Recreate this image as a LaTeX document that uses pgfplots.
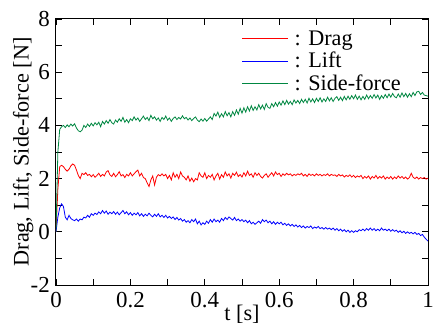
\documentclass[border=0pt]{standalone}
\usepackage{pgfplots}
\pgfplotsset{compat=1.18}
\usepackage{pgfplotstable}
\usepackage{fontspec}
\setmainfont{Liberation Serif}
\definecolor{dg}{RGB}{0,135,65}
\pgfplotstableread{
t drag lift side
0.000 0.00 0.00 0.00
0.005 1.60 0.55 3.00
0.010 2.45 0.90 3.85
0.015 2.50 1.05 3.95
0.020 2.45 0.95 4.00
0.025 2.35 0.55 3.92
0.030 2.28 0.45 4.02
0.035 2.35 0.62 3.95
0.040 2.48 0.50 4.05
0.045 2.55 0.45 3.98
0.050 2.50 0.42 4.06
0.055 2.32 0.48 3.90
0.060 2.12 0.40 3.80
0.065 2.00 0.48 3.76
0.070 2.20 0.45 3.82
0.075 2.15 0.55 4.00
0.080 2.22 0.52 3.92
0.085 2.12 0.62 4.05
0.090 2.16 0.55 3.96
0.095 2.07 0.68 4.08
0.100 2.15 0.62 3.98
0.105 2.05 0.70 4.10
0.110 2.12 0.65 4.02
0.115 2.20 0.75 4.12
0.120 2.08 0.68 3.95
0.125 2.16 0.80 4.15
0.130 2.10 0.70 4.05
0.135 2.25 0.78 4.18
0.140 2.30 0.66 4.08
0.145 2.14 0.74 4.22
0.150 2.08 0.68 4.10
0.155 2.20 0.76 4.05
0.160 2.07 0.66 4.20
0.165 2.15 0.74 4.12
0.170 2.26 0.64 4.25
0.175 2.10 0.72 4.15
0.180 2.15 0.80 4.30
0.185 2.04 0.68 4.12
0.190 2.16 0.75 4.22
0.195 2.10 0.64 4.10
0.200 2.22 0.72 4.25
0.205 2.10 0.62 4.18
0.210 2.18 0.70 4.32
0.215 2.26 0.64 4.20
0.220 2.32 0.72 4.28
0.225 2.10 0.60 4.15
0.230 2.20 0.68 4.25
0.235 2.04 0.58 4.35
0.240 2.00 0.66 4.22
0.245 1.84 0.60 4.30
0.250 1.70 0.70 4.18
0.255 1.95 0.62 4.38
0.260 2.10 0.56 4.25
0.265 1.76 0.66 4.32
0.270 2.05 0.58 4.20
0.275 2.15 0.68 4.28
0.280 2.10 0.56 4.15
0.285 2.18 0.62 4.30
0.290 2.10 0.54 4.22
0.295 2.16 0.62 4.35
0.300 2.00 0.52 4.20
0.305 2.12 0.58 4.28
0.310 1.95 0.50 4.15
0.315 2.22 0.56 4.26
0.320 2.05 0.46 4.32
0.325 2.16 0.54 4.22
0.330 2.00 0.44 4.30
0.335 2.25 0.50 4.24
0.340 2.10 0.40 4.36
0.345 2.05 0.46 4.25
0.350 1.95 0.36 4.30
0.355 2.10 0.42 4.20
0.360 1.90 0.34 4.28
0.365 2.02 0.46 4.18
0.370 1.88 0.38 4.26
0.375 2.00 0.48 4.32
0.380 1.95 0.30 4.20
0.385 2.22 0.40 4.14
0.390 2.10 0.26 4.24
0.395 2.05 0.34 4.16
0.400 2.22 0.28 4.26
0.405 2.00 0.40 4.16
0.410 2.12 0.32 4.24
0.415 2.05 0.46 4.32
0.420 2.16 0.36 4.22
0.425 1.95 0.48 4.45
0.430 2.10 0.38 4.35
0.435 2.20 0.44 4.50
0.440 1.98 0.36 4.30
0.445 2.15 0.50 4.44
0.450 2.05 0.42 4.32
0.455 2.25 0.54 4.52
0.460 2.10 0.46 4.36
0.465 2.18 0.56 4.48
0.470 2.02 0.50 4.32
0.475 2.20 0.44 4.52
0.480 2.12 0.54 4.38
0.485 2.24 0.42 4.58
0.490 2.08 0.48 4.42
0.495 2.15 0.40 4.64
0.500 2.06 0.46 4.46
0.505 2.22 0.38 4.66
0.510 2.10 0.44 4.50
0.515 2.28 0.34 4.70
0.520 2.12 0.42 4.54
0.525 2.18 0.30 4.74
0.530 2.05 0.36 4.56
0.535 2.22 0.28 4.70
0.540 2.12 0.34 4.58
0.545 2.20 0.40 4.78
0.550 2.08 0.32 4.62
0.555 2.02 0.46 4.76
0.560 2.12 0.38 4.60
0.565 2.18 0.44 4.82
0.570 2.05 0.34 4.68
0.575 2.14 0.40 4.64
0.580 2.22 0.30 4.82
0.585 2.10 0.38 4.70
0.590 2.25 0.28 4.86
0.595 2.15 0.36 4.72
0.600 2.20 0.30 4.88
0.605 2.08 0.36 4.76
0.610 2.18 0.26 4.92
0.615 2.12 0.32 4.78
0.620 2.20 0.24 4.94
0.625 2.14 0.30 4.80
0.630 2.18 0.22 4.90
0.635 2.10 0.28 4.78
0.640 2.16 0.20 4.96
0.645 2.12 0.26 4.84
0.650 2.18 0.18 4.94
0.655 2.14 0.24 4.82
0.660 2.20 0.16 4.98
0.665 2.10 0.22 4.86
0.670 2.16 0.14 4.98
0.675 2.08 0.20 4.84
0.680 2.18 0.16 5.02
0.685 2.12 0.22 4.88
0.690 2.16 0.12 5.00
0.695 2.10 0.18 4.86
0.700 2.18 0.14 5.02
0.705 2.12 0.20 4.90
0.710 2.16 0.12 5.04
0.715 2.10 0.16 4.88
0.720 2.15 0.10 5.00
0.725 2.12 0.16 4.90
0.730 2.18 0.10 5.06
0.735 2.10 0.14 4.92
0.740 2.16 0.08 5.04
0.745 2.12 0.14 4.90
0.750 2.14 0.06 5.02
0.755 2.08 0.12 5.08
0.760 2.16 0.04 4.94
0.765 2.10 0.10 5.06
0.770 2.14 0.02 4.93
0.775 2.06 0.08 5.09
0.780 2.12 0.00 4.96
0.785 2.08 0.06 5.10
0.790 2.14 -0.02 4.98
0.795 2.06 0.04 5.12
0.800 2.12 -0.02 5.00
0.805 2.04 0.04 5.14
0.810 2.10 0.00 4.98
0.815 2.06 0.08 5.10
0.820 2.12 0.04 4.96
0.825 2.00 0.10 5.09
0.830 2.08 0.04 4.98
0.835 2.02 0.12 5.14
0.840 2.10 0.06 5.00
0.845 1.98 0.14 5.12
0.850 2.08 0.06 5.02
0.855 2.02 0.12 5.16
0.860 2.12 0.04 5.03
0.865 2.00 0.10 5.14
0.870 2.08 0.04 4.98
0.875 2.02 0.14 5.12
0.880 2.10 0.06 5.02
0.885 1.98 0.10 5.16
0.890 2.06 0.04 5.04
0.895 2.00 0.10 5.18
0.900 2.08 0.02 5.06
0.905 1.98 0.08 5.20
0.910 2.06 0.02 5.08
0.915 2.00 0.06 5.04
0.920 2.10 -0.02 5.18
0.925 2.02 0.04 5.06
0.930 2.08 -0.04 5.22
0.935 2.00 0.02 5.08
0.940 2.06 -0.06 5.20
0.945 1.98 0.00 5.06
0.950 2.04 -0.06 5.19
0.955 2.20 -0.02 5.08
0.960 2.05 -0.08 5.24
0.965 2.00 -0.02 5.12
0.970 2.06 -0.10 5.26
0.975 1.98 -0.06 5.28
0.980 2.04 -0.14 5.16
0.985 2.00 -0.10 5.24
0.990 2.04 -0.20 5.14
0.995 1.98 -0.28 5.12
1.000 2.02 -0.35 5.10
}\data
\begin{document}
\begin{tikzpicture}
\begin{axis}[name=ax, at={(0,0)}, anchor=south west,
  width=372bp, height=266bp, scale only axis,
  xmin=0, xmax=1, ymin=-2, ymax=8,
  xtick={0,0.2,0.4,0.6,0.8,1}, xticklabels={0,0.2,0.4,0.6,0.8,1},
  minor xtick={0.1,0.3,0.5,0.7,0.9},
  ytick={-2,0,2,4,6,8}, yticklabels={-2,0,2,4,6,8},
  minor ytick={-1,1,3,5,7},
  tick align=inside, tick pos=both,
  major tick length=6bp, minor tick length=6bp,
  every tick/.style={black, line width=0.8bp},
  axis line style={line width=1bp},
  ticklabel style={font=\fontsize{23}{27}\selectfont},
  xticklabel style={inner sep=0pt, yshift=-7bp},
  yticklabel style={inner sep=0pt, xshift=-6bp},
  xlabel={t [s]}, ylabel={Drag, Lift, Side-force [N]},
  label style={font=\fontsize{22.3}{26}\selectfont},
  xlabel style={at={(axis description cs:0.5,-0.1316)}, anchor=base},
  ylabel style={at={(axis description cs:-0.088,0.5)}, anchor=center},
  legend style={draw=none, fill=none, inner sep=0pt,
    at={(axis description cs:0.5,0.9586)}, anchor=north west,
    font=\fontsize{22.3}{26}\selectfont,
    nodes={inner sep=0pt, text height=15bp, text depth=5bp},
    row sep=2.5bp,
    /tikz/every odd column/.append style={column sep=6.5bp}},
  legend cell align=left,
  legend image code/.code={\fill[#1, draw=none] (0bp,1bp) rectangle (46bp,2.2bp);},
]
\addplot[red, line width=0.8bp] table[x=t, y=drag] {\data};
\addlegendentry{: Drag}
\addplot[blue, line width=0.8bp] table[x=t, y=lift] {\data};
\addlegendentry{: Lift}
\addplot[dg, line width=0.8bp] table[x=t, y=side] {\data};
\addlegendentry{: Side-force}
\end{axis}
\pgfresetboundingbox
\useasboundingbox ([shift={(-56bp,-41bp)}]ax.south west) rectangle ([shift={(9bp,19bp)}]ax.north east);
\end{tikzpicture}
\end{document}
